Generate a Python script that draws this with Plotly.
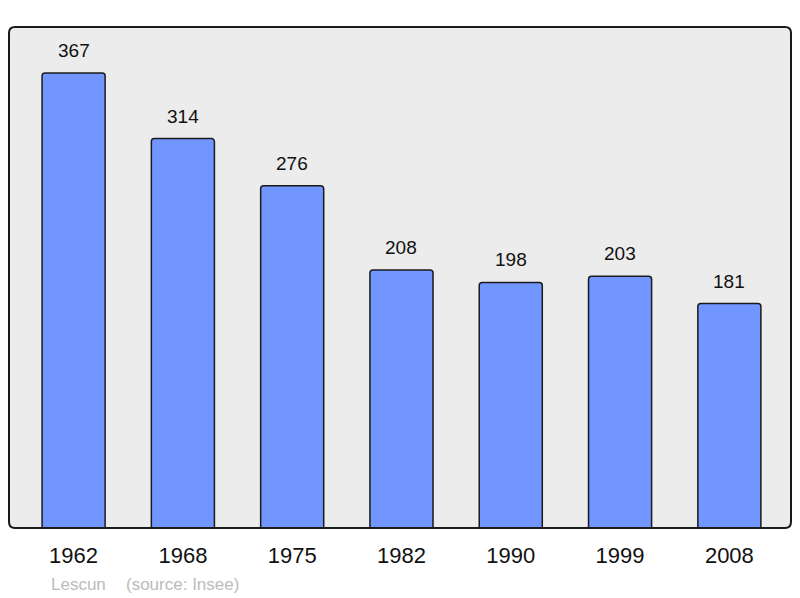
import plotly.graph_objects as go

years = ["1962", "1968", "1975", "1982", "1990", "1999", "2008"]
population = [367, 314, 276, 208, 198, 203, 181]
commune = "Lescun"
source = "(source: Insee)"

# page body adds an 8px offset; compensate so the picture lands where the reference is
OFF = 8
W, H = 800 - OFF, 598 - OFF
ml, mt = 9 - OFF, 27 - OFF
pw, ph = 782, 501
mr, mb = W - ml - pw, H - mt - ph

fig = go.Figure()
fig.add_trace(go.Bar(
    x=list(range(len(years))), y=population,
    width=0.577,
    marker=dict(color="#7196ff", line=dict(color="#1a1a1a", width=1.5), cornerradius=3),
    hoverinfo="skip",
))

for i, v in enumerate(population):
    fig.add_annotation(x=i, y=v, text=str(v), showarrow=False, yanchor="bottom",
                       yshift=10, font=dict(size=19, color="#111111"))

rx, ry = 6 / pw, 6 / ph
path = (f"M {rx},0 L {1-rx},0 Q 1,0 1,{ry} L 1,{1-ry} Q 1,1 {1-rx},1 "
        f"L {rx},1 Q 0,1 0,{1-ry} L 0,{ry} Q 0,0 {rx},0 Z")
fig.add_shape(type="path", path=path, xref="paper", yref="paper",
              line=dict(color="#1a1a1a", width=2), layer="above")

fig.add_annotation(x=(49 - 9) / pw, y=-(584 - 528) / ph, xref="paper", yref="paper",
                   text=commune, showarrow=False, xanchor="left", yanchor="middle",
                   font=dict(size=17, color="#bbbbbb"))
fig.add_annotation(x=(124 - 9) / pw, y=-(584 - 528) / ph, xref="paper", yref="paper",
                   text=source, showarrow=False, xanchor="left", yanchor="middle",
                   font=dict(size=17, color="#bbbbbb"))

fig.update_layout(
    width=W, height=H,
    margin=dict(l=ml, r=mr, t=mt, b=mb, pad=0),
    paper_bgcolor="white", plot_bgcolor="#ececec",
    font=dict(family="Liberation Sans, Arial, sans-serif"),
    showlegend=False,
    xaxis=dict(range=[-0.591, 6.564], tickvals=list(range(len(years))), ticktext=years,
               showgrid=False, zeroline=False, showline=False, ticks="",
               tickfont=dict(size=22, color="#111111"), ticklabelstandoff=12,
               fixedrange=True),
    yaxis=dict(range=[0, 404], showgrid=False, zeroline=False, showline=False,
               showticklabels=False, fixedrange=True),
)

fig.write_html("out.html")
